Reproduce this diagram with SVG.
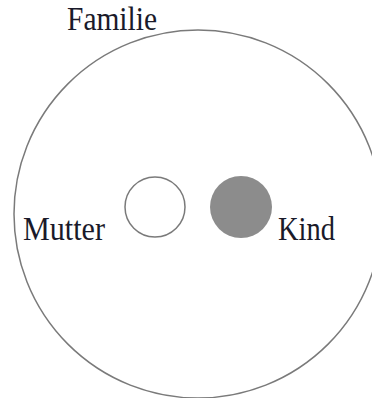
<svg xmlns="http://www.w3.org/2000/svg" width="372" height="398" viewBox="0 0 372 398">
<style>
.lbl{font-family:"Liberation Serif","Times New Roman",serif;font-size:33px;fill:#1a1a2a}
.ring{fill:none;stroke:#7a7a7a;stroke-width:1.5}
</style>
<rect width="372" height="398" fill="#fff"/>
<g id="familie">
<circle class="ring" cx="198" cy="214" r="184"/>
<text class="lbl" x="67" y="30" textLength="90" lengthAdjust="spacingAndGlyphs">Familie</text>
</g>
<g id="mutter">
<circle class="ring" cx="155" cy="207" r="30"/>
<text class="lbl" x="23" y="240" textLength="82" lengthAdjust="spacingAndGlyphs">Mutter</text>
</g>
<g id="kind">
<circle cx="241" cy="207" r="31" fill="#8c8c8c"/>
<text class="lbl" x="278" y="240" textLength="57" lengthAdjust="spacingAndGlyphs">Kind</text>
</g>
<g id="connectors"/>
</svg>
